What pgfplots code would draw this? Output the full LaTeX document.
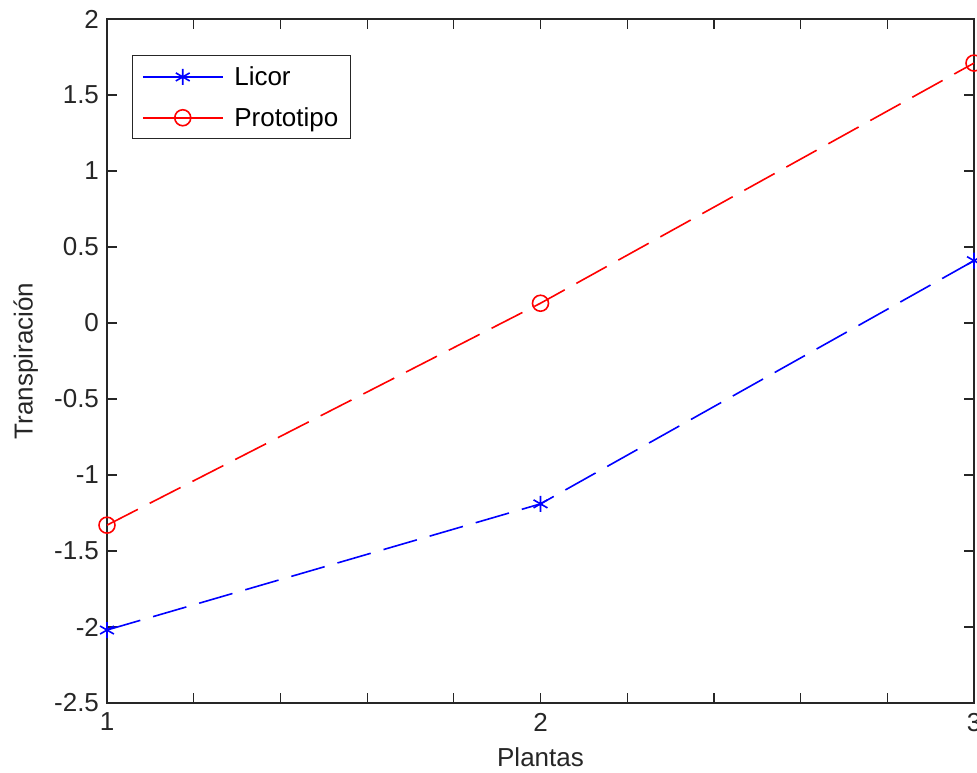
\documentclass[border=0pt]{standalone}
\usepackage{pgfplots}
\pgfplotsset{compat=1.18}
\usepackage{fontspec}
\setmainfont{Liberation Sans}
\newcommand{\fsz}{\fontsize{19.5pt}{23pt}\selectfont}
\begin{document}
\begin{tikzpicture}
\begin{axis}[
  name=ax,
  scale only axis,
  width=650.25pt, height=513pt,
  xmin=1, xmax=3, ymin=-2.5, ymax=2,
  xtick={1,2,3},
  minor xtick={1.2,1.4,1.6,1.8,2.2,2.4,2.6,2.8},
  ytick={-2.5,-2,-1.5,-1,-0.5,0,0.5,1,1.5,2},
  tick align=inside,
  major tick length=7.5pt, minor tick length=7.5pt,
  axis line style={line width=0.9pt, black!85},
  every tick/.style={line width=0.9pt, black!85},
  /pgf/number format/assume math mode=true,
  tick label style={font=\fsz, black!85},
  xticklabel style={yshift=-4pt},
  yticklabel style={xshift=-2.5pt},
  every axis y label/.style={at={([xshift=-61pt]rel axis cs:0,0.5)}, rotate=90, anchor=center, font=\fsz, black!85},
  every axis x label/.style={at={([yshift=-41pt]rel axis cs:0.5,0)}, anchor=center, font=\fsz, black!85},
  xlabel={Plantas},
  ylabel={Transpiración},
  clip=false,
  legend style={at={(axis description cs:0.0288,0.947)}, anchor=north west,
    font=\fsz, draw=black!85, line width=0.9pt, inner xsep=7pt, inner ysep=6pt,
    row sep=11pt, column sep=6pt, cells={anchor=west}},
  legend image code/.code={
    \draw[mark repeat=2, mark phase=2, #1, solid, line width=1.3pt] plot coordinates {(0pt,0pt) (30pt,0pt) (60pt,0pt)};
  },
]
\addplot[color=blue, line width=1.2pt, dash pattern=on 26pt off 10pt, mark=asterisk, mark size=6pt, mark options={solid, line width=1.2pt}]
  coordinates {(1,-2.02) (2,-1.19) (3,0.41)};
\addlegendentry{Licor}
\addplot[color=red, line width=1.2pt, dash pattern=on 26pt off 10pt, mark=o, mark size=6pt, mark options={solid, line width=1.2pt}]
  coordinates {(1,-1.33) (2,0.13) (3,1.71)};
\addlegendentry{Prototipo}
\end{axis}
\pgfresetboundingbox
\path ([xshift=-80.25pt,yshift=-52.5pt]ax.south west) rectangle ([xshift=2.25pt,yshift=14.25pt]ax.north east);
\end{tikzpicture}
\end{document}
